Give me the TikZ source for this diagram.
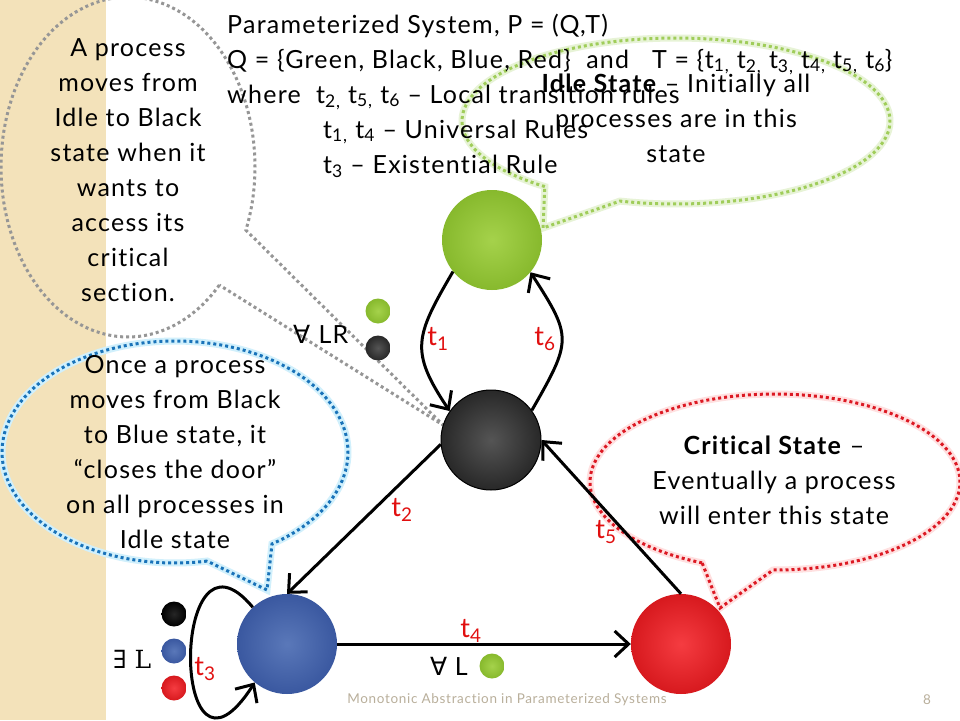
\documentclass[tikz,border=0pt]{standalone}
\usepackage{fontspec}
\setmainfont{Lato}[LetterSpace=5, Ligatures=CommonOff]
\newfontfamily\symsans{DejaVu Sans}
\newfontfamily\symserif{DejaVu Serif}
\usetikzlibrary{arrows.meta}
\definecolor{beige}{RGB}{243,226,186}
\definecolor{tred}{RGB}{225,15,15}
\definecolor{cgray}{RGB}{150,150,150}
\definecolor{cgreen}{RGB}{160,205,90}
\definecolor{cblue}{RGB}{25,115,185}
\definecolor{cred}{RGB}{220,25,35}
\definecolor{footc}{RGB}{185,175,155}
\definecolor{gOut}{RGB}{135,185,45}
\definecolor{gIn}{RGB}{165,210,75}
\definecolor{kOut}{RGB}{40,40,40}
\definecolor{kIn}{RGB}{85,85,85}
\definecolor{bOut}{RGB}{58,88,160}
\definecolor{bIn}{RGB}{90,120,185}
\definecolor{rOut}{RGB}{215,25,30}
\definecolor{rIn}{RGB}{245,60,65}
\newcommand\ts[1]{t\textsubscript{#1}}
\begin{document}
\begin{tikzpicture}[x=1pt,y=-1pt,
  statenode/.style={circle, minimum size=100pt, inner sep=0pt, shading=radial},
  smalldot/.style={circle, minimum size=25pt, inner sep=0pt, shading=radial},
  arr/.style={line width=3pt, -{Straight Barb[length=14pt,width=26pt]}},
  tlab/.style={text=tred, font=\fontsize{27}{30}\selectfont, inner sep=0pt},
  toptext/.style={font=\fontsize{25}{35}\selectfont, inner sep=0pt, anchor=base west},
  bodytext/.style={font=\fontsize{25}{35}\selectfont, align=center, inner sep=0pt, anchor=base},
  calloutline/.style={line width=3pt, dash pattern=on 3pt off 3pt},
]
\useasboundingbox (0,0) rectangle (960,720);
\fill[white] (0,0) rectangle (960,720);
\fill[beige] (0,0) rectangle (106,720);

% callout tips
\coordinate (tipGray) at (443,425);
\coordinate (tipGreen) at (543,228);
\coordinate (tipBlue) at (267,590);
\coordinate (tipRed) at (720,608);

% callouts
\draw[calloutline, cgray] plot[domain=44:381.8, samples=140, variable=\t] ({128+127*cos(\t)},{167+170*sin(\t)}) -- (tipGray) -- cycle;
\draw[line width=7pt, cgreen!25] plot[domain=127.8:465.2, samples=140, variable=\t] ({676+214*cos(\t)},{121+83*sin(\t)}) -- (tipGreen) -- cycle;
\draw[calloutline, cgreen] plot[domain=127.8:465.2, samples=140, variable=\t] ({676+214*cos(\t)},{121+83*sin(\t)}) -- (tipGreen) -- cycle;
\draw[line width=7pt, cyan!18] plot[domain=79.3:415.9, samples=140, variable=\t] ({175+173*cos(\t)},{452+111*sin(\t)}) -- (tipBlue) -- cycle;
\draw[calloutline, cblue] plot[domain=79.3:415.9, samples=140, variable=\t] ({175+173*cos(\t)},{452+111*sin(\t)}) -- (tipBlue) -- cycle;
\draw[line width=7pt, red!12] plot[domain=113.2:450.6, samples=140, variable=\t] ({775+185*cos(\t)},{482+88*sin(\t)}) -- (tipRed) -- cycle;
\draw[calloutline, cred] plot[domain=113.2:450.6, samples=140, variable=\t] ({775+185*cos(\t)},{482+88*sin(\t)}) -- (tipRed) -- cycle;

% states
\node[statenode, inner color=gIn, outer color=gOut] (nGreen) at (492,240) {};
\node[statenode, inner color=kIn, outer color=kOut, draw=black, line width=1pt] (nBlack) at (491,440) {};
\node[statenode, inner color=bIn, outer color=bOut] (nBlue) at (287,644) {};
\node[statenode, inner color=rIn, outer color=rOut] (nRed) at (681,644) {};

% transitions
\draw[arr] (nGreen.219) .. controls +(-38,65) and +(-40,-60) .. (nBlack.145);
\draw[arr] (nBlack.36) .. controls +(40,-70) and +(42,65) .. (nGreen.320);
\draw[arr] (nBlack.185) -- (nBlue.90);
\draw[arr] (nRed.90) -- (nBlack.0);
\draw[arr] (nBlue.east) -- (nRed.west);
\draw[arr] (nBlue.133) .. controls +(-83,-100) and +(-85,133) .. (nBlue.230);

% transition labels
\node[tlab] (lt1) at (438,339) {\ts{1}};
\node[tlab] (lt6) at (545,339) {\ts{6}};
\node[tlab] (lt2) at (402,510) {\ts{2}};
\node[tlab] (lt5) at (606,532) {\ts{5}};
\node[tlab] (lt4) at (471,631) {\ts{4}};
\node[tlab] (lt3) at (205,669) {\ts{3}};

% guards
\node[toptext] (gLR) at (293,343) {{\symsans ∀}\,\,LR};
\node[smalldot, inner color=gIn, outer color=gOut] (dG1) at (378,311) {};
\node[smalldot, inner color=kIn, outer color=kOut] (dK1) at (378,348) {};
\node[toptext] (gE) at (113,668) {\symserif ∃ L};
\node[smalldot, inner color=black!85, outer color=black] (dK2) at (174,614) {};
\node[smalldot, inner color=bIn, outer color=bOut] (dB2) at (174,651) {};
\node[smalldot, inner color=rIn, outer color=rOut] (dR2) at (174,688) {};
\node[toptext] (gL) at (430,675) {{\symsans ∀} L};
\node[smalldot, inner color=gIn, outer color=gOut] (dG3) at (492,666) {};

% top text
\node[toptext] (l1) at (227,33) {Parameterized System, P = (Q,T)};
\node[toptext] (l2) at (227,68) {Q = \{Green, Black, Blue, Red\}\ \ and\ \ \ T = \{\ts{1,} \ts{2,} \ts{3,} \ts{4,} \ts{5,} \ts{6}\}};
\node[toptext] (l3) at (227,103) {where\ \ \ts{2,} \ts{5,} \ts{6} – Local transition rules};
\node[toptext] (l4) at (323,138) {\ts{1,} \ts{4} – Universal Rules};
\node[toptext] (l5) at (323,173) {\ts{3} – Existential Rule};

% callout texts (anchored at the baseline of their last line)
\node[bodytext] (txGray) at (128,301) {A process\\moves from\\Idle to Black\\state when it\\wants to\\access its\\critical\\section.};
\node[bodytext] (txGreen) at (676,162) {\textbf{Idle State} – Initially all\\processes are in this\\state};
\node[bodytext] (txBlue) at (175,548) {Once a process\\moves from Black\\to Blue state, it\\“closes the door”\\on all processes in\\Idle state};
\node[bodytext] (txRed) at (774,524) {\textbf{Critical State} –\\Eventually a process\\will enter this state};

% footer
\node[font=\fontsize{13.5}{15}\selectfont, text=footc, inner sep=0pt] (foot) at (507,700) {Monotonic Abstraction in Parameterized Systems};
\node[font=\fontsize{13.5}{15}\selectfont, text=footc, inner sep=0pt] (pg) at (927,700) {8};
\end{tikzpicture}
\end{document}
